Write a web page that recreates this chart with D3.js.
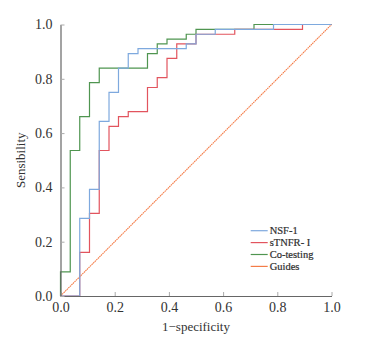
<!DOCTYPE html>
<html>
<head>
<meta charset="utf-8">
<script src="https://cdn.jsdelivr.net/npm/d3@7"></script>
<style>
  body { margin: 0; background: #fff; }
  svg text { font-family: "Liberation Serif", "Times New Roman", serif; fill: #333; }
</style>
</head>
<body>
<svg id="chart"></svg>
<script>
// ROC step corners (1-specificity, sensitivity), drawn with curveStepAfter
var nsfX  = [0, 0.071, 0.107, 0.143, 0.179, 0.214, 0.25, 0.286, 0.464, 0.5, 0.571, 0.786, 1];
var nsfY  = [0, 0.286, 0.393, 0.643, 0.75, 0.839, 0.893, 0.911, 0.929, 0.964, 0.982, 1, 1];

var tnfX  = [0, 0.071, 0.107, 0.143, 0.179, 0.214, 0.25, 0.321, 0.357, 0.393, 0.429, 0.5, 0.643, 0.893, 1];
var tnfY  = [0, 0.161, 0.304, 0.536, 0.625, 0.661, 0.679, 0.768, 0.804, 0.875, 0.929, 0.964, 0.982, 1, 1];

var coX   = [0, 0, 0.036, 0.071, 0.107, 0.143, 0.321, 0.357, 0.393, 0.464, 0.5, 0.714, 1];
var coY   = [0, 0.089, 0.536, 0.661, 0.786, 0.839, 0.893, 0.929, 0.946, 0.964, 0.982, 1, 1];

var guideX = [0, 1];
var guideY = [0, 1];

var seriesNames = ['NSF-1', 'sTNFR- I', 'Co-testing', 'Guides'];
var seriesColors = ['#7ea9de', '#e2545e', '#4f9550', '#f47c48'];
var tickValues = [0, 0.2, 0.4, 0.6, 0.8, 1.0];

var margin = {top: 24.5, right: 41.5, bottom: 41, left: 60.5};
var width = 373, height = 337;
var w = width - margin.left - margin.right;
var h = height - margin.top - margin.bottom;

var svg = d3.select('#chart').attr('width', width).attr('height', height);
var chart = svg.append('g').attr('transform', `translate(${margin.left},${margin.top})`);

var xScale = d3.scaleLinear().domain([0, 1]).range([0, w]);
var yScale = d3.scaleLinear().domain([0, 1]).range([h, 0]);

function pts(xs, ys) {
    return xs.map(function(d, i) { return [d, ys[i]]; });
}

var line = d3.line()
    .x(d => xScale(d[0]))
    .y(d => yScale(d[1]))
    .curve(d3.curveStepAfter);

// guide diagonal (fine dotted look)
chart.append('path')
    .datum(pts(guideX, guideY))
    .attr('fill', 'none')
    .attr('stroke', seriesColors[3])
    .attr('stroke-width', 1.1)
    .attr('stroke-dasharray', '1.6,0.6')
    .attr('d', d3.line().x(d => xScale(d[0])).y(d => yScale(d[1])));

// order: green under, then red, then blue
var curves = [
    {data: pts(coX, coY), color: seriesColors[2]},
    {data: pts(tnfX, tnfY), color: seriesColors[1]},
    {data: pts(nsfX, nsfY), color: seriesColors[0]}
];

chart.selectAll('.roc')
    .data(curves)
    .join('path')
    .attr('class', 'roc')
    .attr('fill', 'none')
    .attr('stroke', d => d.color)
    .attr('stroke-width', 1.2)
    .attr('d', d => line(d.data));

// axes
var xAxis = d3.axisBottom(xScale).tickValues(tickValues).tickFormat(d3.format('.1f'))
    .tickSizeInner(-4).tickSizeOuter(0).tickPadding(6);
var yAxis = d3.axisLeft(yScale).tickValues(tickValues).tickFormat(d3.format('.1f'))
    .tickSizeInner(-4).tickSizeOuter(0).tickPadding(8);

var xAxisG = chart.append('g').attr('transform', `translate(0,${h})`).call(xAxis);
var yAxisG = chart.append('g').call(yAxis);

[xAxisG, yAxisG].forEach(function(g) {
    g.select('.domain').attr('stroke', '#666').attr('stroke-width', 1.2);
    g.selectAll('.tick line').attr('stroke', '#aaa');
    g.selectAll('.tick text').attr('font-size', 14).attr('fill', '#333')
        .style('font-family', '"Liberation Serif", serif');
});

// axis titles
chart.append('text')
    .attr('x', w / 2)
    .attr('y', h + 35)
    .attr('text-anchor', 'middle')
    .attr('font-size', 13)
    .text('1\u2212specificity');

chart.append('text')
    .attr('transform', `translate(-36, ${h / 2})rotate(-90)`)
    .attr('text-anchor', 'middle')
    .attr('font-size', 13)
    .text('Sensibility');

// legend
var legend = chart.append('g').attr('transform', `translate(${250.7 - margin.left},${230.7 - margin.top})`);
var rows = legend.selectAll('g')
    .data(seriesNames)
    .join('g')
    .attr('transform', (d, i) => `translate(0,${i * 11.9})`);

rows.append('line')
    .attr('x1', 0).attr('x2', 17)
    .attr('stroke', (d, i) => seriesColors[i])
    .attr('stroke-width', 1.2);

rows.append('text')
    .attr('x', 19)
    .attr('dy', '0.35em')
    .attr('font-size', 10.5)
    .attr('fill', '#222')
    .attr('stroke', '#222')
    .attr('stroke-width', 0.2)
    .text(d => d);
</script>
</body>
</html>
